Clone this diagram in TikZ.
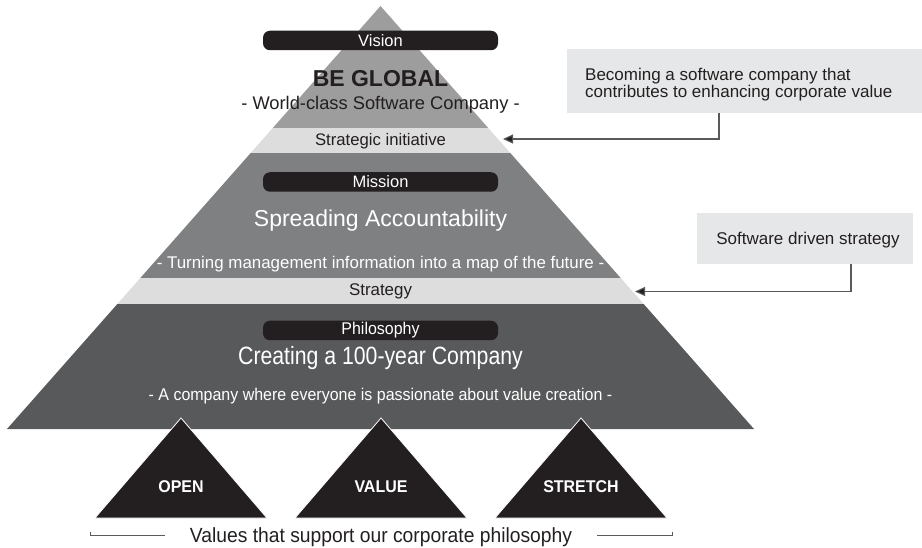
\documentclass[tikz,border=0pt]{standalone}
\usepackage{fontspec}
\setmainfont{Liberation Sans}
\newfontfamily\narrowfont[FakeStretch=0.85]{Liberation Sans}
\newfontfamily\slimfont[FakeStretch=0.94]{Liberation Sans}
\usetikzlibrary{calc,arrows.meta}

\definecolor{tiertop}{HTML}{9D9D9D}
\definecolor{tiermid}{HTML}{7F8082}
\definecolor{tierbase}{HTML}{58595B}
\definecolor{bandlight}{HTML}{DDDDDE}
\definecolor{notegray}{HTML}{E6E7E8}
\definecolor{inkblack}{HTML}{231F20}
\definecolor{linegray}{HTML}{5A5A5A}

\tikzset{
  fs/.style={font=\fontsize{#1}{#1}\selectfont},
  pill/.style={fill=inkblack, rounded corners=7pt, minimum width=235pt,
    minimum height=19.5pt, inner sep=0pt, text=white, fs=16.5},
  lbl/.style={inner sep=0pt, text=inkblack},
  wlbl/.style={inner sep=0pt, text=white},
  valtri/.style={fill=inkblack, draw=white, line width=0.8pt, line join=miter},
  valtxt/.style={inner sep=0pt, text=white, font=\slimfont\bfseries\fontsize{17}{17}\selectfont},
  note/.style={fill=notegray, inner sep=0pt},
  conn/.style={draw=linegray, line width=1.1pt, -{Triangle[length=10pt,width=9pt,fill=inkblack]}},
  bracket/.style={draw=linegray, line width=0.9pt}
}

\begin{document}
\begin{tikzpicture}[x=1pt,y=-1pt]
\useasboundingbox (0,0) rectangle (922,548);

% pyramid outline
\coordinate (apex) at (380.5,6);
\coordinate (bl) at (7,429);
\coordinate (br) at (754,429);

\begin{scope}
  \clip (apex) -- (bl) -- (br) -- cycle;
  \fill[tiertop]   (0,0)   rectangle (922,128);
  \fill[bandlight] (0,128) rectangle (922,153);
  \fill[tiermid]   (0,153) rectangle (922,278);
  \fill[bandlight] (0,278) rectangle (922,304);
  \fill[tierbase]  (0,304) rectangle (922,430);
\end{scope}

% vision tier
\node[pill] (vision) at (380.5,40.5) {Vision};
\node[lbl, font=\bfseries\fontsize{23}{23}\selectfont] (global) at (380.5,79) {BE GLOBAL};
\node[lbl, fs=18.3] (worldclass) at (380.5,104.5) {- World-class Software Company -};
\node[lbl, fs=16.7] (initiative) at (380.5,141) {Strategic initiative};

% mission tier
\node[pill] (mission) at (380.5,182) {Mission};
\node[wlbl, fs=23] (spreading) at (380.5,221) {Spreading Accountability};
\node[wlbl, fs=16.9] (turning) at (380.5,264) {- Turning management information into a map of the future -};
\node[lbl, fs=16.9] (strategy) at (380.5,291.5) {Strategy};

% philosophy tier
\node[pill, font=\slimfont\fontsize{17}{17}\selectfont] (philosophy) at (380.5,330.5) {Philosophy};
\node[wlbl, font=\narrowfont\fontsize{25}{25}\selectfont] (creating) at (380.5,358) {Creating a 100-year Company};
\node[wlbl, font=\slimfont\fontsize{17}{17}\selectfont] (passion) at (380.5,396) {- A company where everyone is passionate about value creation -};

% supporting values
\foreach \nm/\cx/\word in {open/181/OPEN, value/381/VALUE, stretch/581/STRETCH}{
  \fill[valtri] (\cx,418) -- (\cx-86,518) -- (\cx+86,518) -- cycle;
  \node[valtxt] (\nm) at (\cx,487) {\word};
}

\node[lbl, font=\slimfont\fontsize{20.5}{20.5}\selectfont] (values) at (381,537) {Values that support our corporate philosophy};
% bracket under the value triangles
\coordinate (brlA) at (90,532);
\coordinate (brlB) at (90,535.5);
\coordinate (brlC) at (165,535.5);
\coordinate (brrA) at (672,532);
\coordinate (brrB) at (672,535.5);
\coordinate (brrC) at (597,535.5);
\draw[bracket] (brlA) -- (brlB) -- (brlC);
\draw[bracket] (brrA) -- (brrB) -- (brrC);

% side notes
\node[note, minimum width=355pt, minimum height=64pt] (noteA) at (744.5,81) {};
\node[lbl, align=left, anchor=west, text depth=0pt,
      font=\fontsize{17}{16.5}\selectfont] (noteAtxt) at (585,83)
  {Becoming a software company that\\contributes to enhancing corporate value};
\node[note, minimum width=216pt, minimum height=51pt] (noteB) at (805,238.5) {};
\node[lbl, fs=17] (noteBtxt) at (808,240) {Software driven strategy};

\coordinate (tipA) at (503,139);
\coordinate (tipB) at (635,291.5);
\draw[conn] ($(noteA.south)+(-25.5,0)$) |- (tipA);
\draw[conn] ($(noteB.south)+(46,0)$) |- (tipB);
\end{tikzpicture}
\end{document}
